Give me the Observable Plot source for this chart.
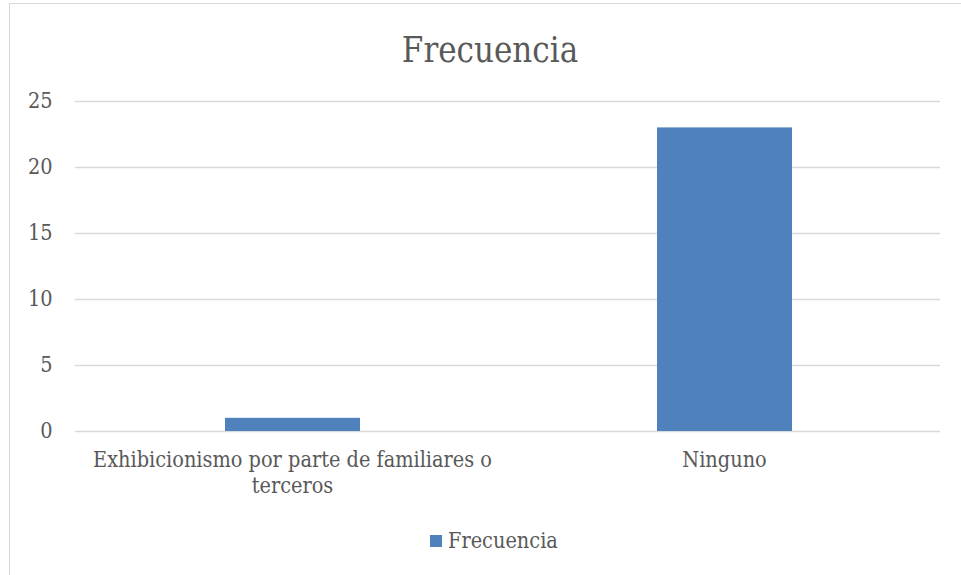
<!DOCTYPE html>
<html>
<head>
<meta charset="utf-8">
<script src="https://cdn.jsdelivr.net/npm/d3@7"></script>
<script src="https://cdn.jsdelivr.net/npm/@observablehq/plot@0.6"></script>
<style>
  html, body { margin: 0; padding: 0; background: #fff; }
  #wrap { position: relative; width: 961px; height: 575px; overflow: hidden; font-family: "DejaVu Serif Condensed", "DejaVu Serif", serif; color: #595959; }
  #frame { position: absolute; left: 9px; top: 3px; width: 980px; height: 600px; border: 1px solid #d9d9d9; box-sizing: border-box; }
  #title { position: absolute; left: 0; width: 980px; top: 30px; text-align: center; font-size: 34.5px; line-height: 40px; color: #595959; }
  #legend { position: absolute; left: 430px; top: 528px; font-size: 21.5px; line-height: 26px; display: flex; align-items: center; }
  #legend .sw { width: 12px; height: 12px; background: #4f81bd; margin-right: 6px; }
  #chart { position: absolute; left: 0; top: 80px; }
</style>
</head>
<body>
<div id="wrap">
  <div id="frame"></div>
  <div id="title"></div>
  <div id="chart"></div>
  <div id="legend"><span class="sw"></span><span id="legtext"></span></div>
</div>
<script>
const chartTitle = "Frecuencia";
const seriesName = "Frecuencia";
const categories = ["Exhibicionismo por parte de familiares o terceros", "Ninguno"];
const tickLabels = ["Exhibicionismo por parte de familiares o\nterceros", "Ninguno"];
const values = [1, 23];
const yTicks = [0, 5, 10, 15, 20, 25];

const data = categories.map((c, i) => ({category: c, value: values[i]}));
const labelOf = new Map(categories.map((c, i) => [c, tickLabels[i]]));

document.getElementById("title").textContent = chartTitle;
document.getElementById("legtext").textContent = seriesName;

const fontFamily = '"DejaVu Serif Condensed", "DejaVu Serif", serif';

const plot = Plot.plot({
  width: 961,
  height: 430,
  marginLeft: 75,
  marginRight: 21,
  marginTop: 21,
  marginBottom: 79,
  style: {fontFamily, fontSize: "21.5px", color: "#595959", background: "transparent", overflow: "visible"},
  x: {domain: categories, padding: 0},
  y: {domain: [0, 25]},
  marks: [
    Plot.gridY(yTicks, {stroke: "#d9d9d9", strokeOpacity: 1, strokeWidth: 1.3}),
    Plot.barY(data, {x: "category", y: "value", fill: "#4f81bd", insetLeft: 149, insetRight: 148}),
    Plot.axisY(yTicks, {tickSize: 0, tickPadding: 23, label: null, fill: "#595959", fontSize: 21.5}),
    Plot.axisX({tickSize: 0, tickPadding: 17, label: null, tickFormat: d => labelOf.get(d), lineHeight: 1.2, fill: "#595959", fontSize: 21.5})
  ]
});
document.getElementById("chart").appendChild(plot);
</script>
</body>
</html>
